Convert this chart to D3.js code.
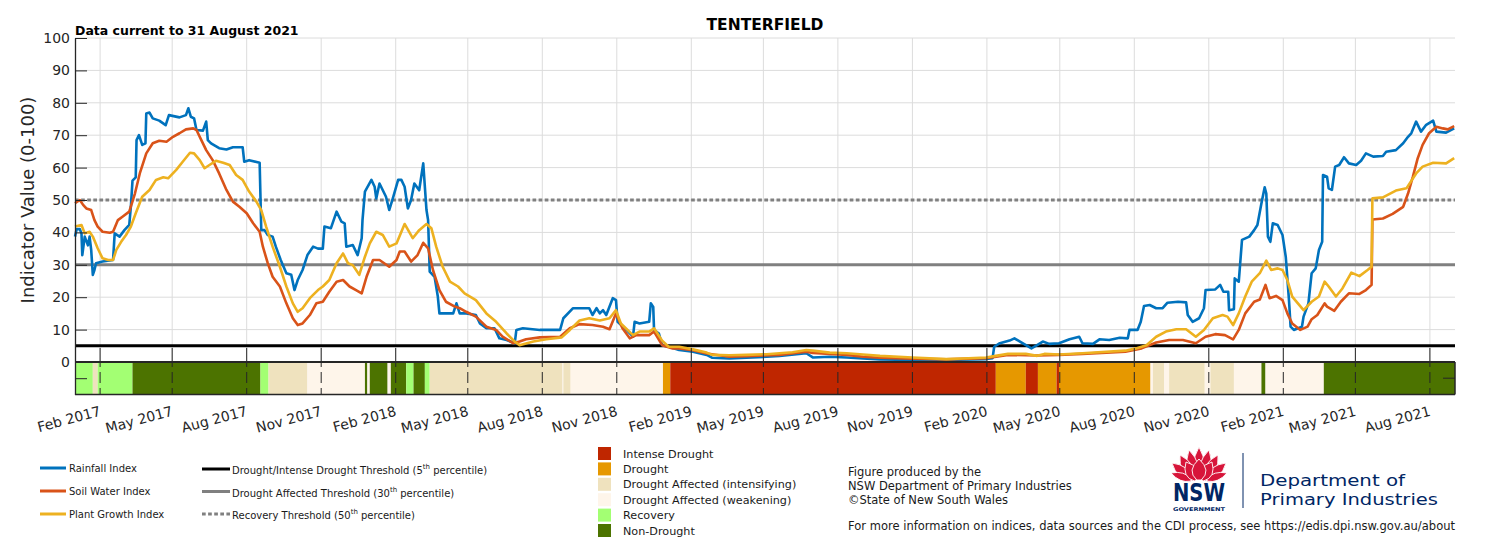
<!DOCTYPE html>
<html><head><meta charset="utf-8">
<script src="https://cdn.jsdelivr.net/npm/d3@7"></script>
<style>
body{margin:0;background:#fff}
svg{display:block}
text{font-family:"DejaVu Sans",sans-serif}
</style>
</head><body>
<svg id="c" width="1500" height="541"></svg>
<script>
// ---------------- DATA ----------------
const chartTitle = "TENTERFIELD";
const subTitle = "Data current to 31 August 2021";
const yTicks = [-5,0,10,20,30,40,50,60,70,80,90,100];
const thresholds = [{v:5,name:"Drought/Intense Drought Threshold",pct:"5"},{v:30,name:"Drought Affected Threshold",pct:"30"},{v:50,name:"Recovery Threshold",pct:"50"}];

const rainfall = [
["2017-01-01",38.7],["2017-01-03",41],["2017-01-07",41],["2017-01-09",39.7],["2017-01-10",33],["2017-01-13",38.7],["2017-01-17",36],["2017-01-19",38.7],["2017-01-21",34.6],["2017-01-23",26.9],["2017-01-25",28.4],["2017-01-27",30.5],["2017-02-04",31],["2017-02-17",31.5],["2017-02-19",39.7],["2017-02-25",38.7],["2017-03-03",40.7],["2017-03-09",42.3],["2017-03-11",48],["2017-03-13",56],["2017-03-17",57],["2017-03-18",68.5],["2017-03-21",70],["2017-03-25",67],["2017-03-29",67.5],["2017-03-30",76.7],["2017-04-03",77],["2017-04-07",75.2],["2017-04-15",74.5],["2017-04-23",73.1],["2017-04-27",76.2],["2017-05-10",75.5],["2017-05-18",76.2],["2017-05-21",78.3],["2017-05-24",75.7],["2017-05-28",75.2],["2017-05-31",71.6],["2017-06-08",71.4],["2017-06-12",74.2],["2017-06-14",68.5],["2017-06-18",67.5],["2017-06-28",66],["2017-07-07",65.6],["2017-07-15",66.3],["2017-07-27",66.3],["2017-07-29",61.8],["2017-08-04",62.3],["2017-08-17",61.5],["2017-08-19",40.7],["2017-08-23",40.7],["2017-08-27",39.2],["2017-09-02",38.7],["2017-09-06",35.6],["2017-09-12",31.5],["2017-09-19",27.4],["2017-09-25",26.9],["2017-09-29",22.2],["2017-10-03",25.3],["2017-10-09",28.4],["2017-10-15",33],["2017-10-22",35.6],["2017-10-28",35],["2017-11-03",35],["2017-11-05",41.8],["2017-11-13",41.3],["2017-11-20",46.4],["2017-11-26",43.3],["2017-11-30",42.8],["2017-12-02",35.6],["2017-12-10",36.1],["2017-12-16",33],["2017-12-21",38.2],["2017-12-22",43.8],["2017-12-25",52.6],["2018-01-02",56.2],["2018-01-06",54.1],["2018-01-08",50.5],["2018-01-12",55.1],["2018-01-20",51],["2018-01-24",46.9],["2018-01-29",51],["2018-02-04",56.2],["2018-02-08",56.2],["2018-02-12",54.1],["2018-02-16",47.4],["2018-02-20",50],["2018-02-24",55.1],["2018-03-02",53],["2018-03-07",61.3],["2018-03-11",46.9],["2018-03-13",43.8],["2018-03-15",27.9],["2018-03-21",26.3],["2018-03-25",20.2],["2018-03-27",15],["2018-04-13",15],["2018-04-17",18.1],["2018-04-21",15],["2018-04-29",15],["2018-05-11",14.5],["2018-05-16",11.9],["2018-05-24",10.4],["2018-06-03",10.4],["2018-06-09",7.3],["2018-06-18",6.8],["2018-06-28",5.8],["2018-06-30",9.9],["2018-07-08",10.4],["2018-07-29",9.9],["2018-08-23",9.9],["2018-08-27",13.5],["2018-09-08",16.6],["2018-09-28",16.6],["2018-10-02",14.5],["2018-10-07",16.6],["2018-10-11",15],["2018-10-15",16],["2018-10-19",14.5],["2018-10-27",19.7],["2018-10-31",19.1],["2018-11-02",12.4],["2018-11-13",9.9],["2018-11-21",7.8],["2018-11-23",12.4],["2018-11-29",11.9],["2018-12-11",12.4],["2018-12-13",18.1],["2018-12-16",17],["2018-12-17",9.9],["2018-12-23",8.8],["2018-12-27",5.2],["2019-01-04",4.7],["2019-01-17",3.7],["2019-02-03",3.2],["2019-02-20",2.2],["2019-02-27",1.3],["2019-03-20",1.1],["2019-04-10",1.3],["2019-05-05",1.6],["2019-05-21",1.9],["2019-06-23",2.7],["2019-07-01",1.4],["2019-07-22",1.6],["2019-08-12",1.4],["2019-09-01",1.1],["2019-09-22",0.8],["2019-11-01",0.6],["2019-12-13",0.6],["2020-01-31",0.9],["2020-02-08",1.2],["2020-02-10",4.7],["2020-02-17",5.8],["2020-02-29",6.6],["2020-03-06",7.3],["2020-03-16",5.8],["2020-03-27",4.2],["2020-04-03",5.2],["2020-04-10",6.3],["2020-04-18",5.6],["2020-04-30",5.8],["2020-05-13",7],["2020-05-25",7.8],["2020-05-29",5.8],["2020-06-11",5.6],["2020-06-19",7],["2020-07-01",6.8],["2020-07-14",7.5],["2020-07-24",7.3],["2020-07-26",9.9],["2020-08-05",9.9],["2020-08-09",12.4],["2020-08-13",17.3],["2020-08-20",17.6],["2020-08-28",16.6],["2020-09-05",16.6],["2020-09-11",18.3],["2020-09-24",18.6],["2020-10-04",18.4],["2020-10-06",14.5],["2020-10-12",12.4],["2020-10-20",13.5],["2020-10-26",16.6],["2020-10-28",22.2],["2020-11-09",22.4],["2020-11-15",23.8],["2020-11-19",21.7],["2020-11-25",21.7],["2020-11-26",16],["2020-12-02",16.3],["2020-12-03",25.8],["2020-12-08",24.8],["2020-12-12",37.7],["2020-12-21",38.7],["2020-12-27",40.7],["2020-12-31",42.3],["2021-01-05",49],["2021-01-09",53.9],["2021-01-11",52],["2021-01-13",38.7],["2021-01-16",37.1],["2021-01-19",42.8],["2021-01-25",42.3],["2021-01-31",39.2],["2021-02-04",32.5],["2021-02-08",19.1],["2021-02-10",10.9],["2021-02-14",9.9],["2021-02-24",10.9],["2021-02-26",14],["2021-03-04",18.1],["2021-03-08",27.4],["2021-03-13",28.9],["2021-03-17",34.6],["2021-03-21",37.1],["2021-03-22",57.7],["2021-03-27",57.2],["2021-03-29",53.6],["2021-04-02",53.1],["2021-04-06",60.3],["2021-04-11",60.8],["2021-04-17",63.2],["2021-04-23",61.3],["2021-05-02",60.8],["2021-05-08",62.1],["2021-05-14",64.4],["2021-05-23",63.4],["2021-06-04",63.6],["2021-06-08",64.9],["2021-06-20",65.4],["2021-06-29",67.5],["2021-07-05",69.5],["2021-07-09",70.6],["2021-07-15",74.2],["2021-07-21",71.1],["2021-07-27",73.1],["2021-08-05",74.5],["2021-08-09",71.1],["2021-08-21",70.8],["2021-08-31",72.1]
];

const soilWater = [
["2017-01-01",49],["2017-01-07",50],["2017-01-11",48.5],["2017-01-15",47.4],["2017-01-21",46.9],["2017-01-25",43.8],["2017-01-29",41.8],["2017-02-04",40.2],["2017-02-13",39.9],["2017-02-17",40.2],["2017-02-23",43.8],["2017-03-01",44.9],["2017-03-09",46.4],["2017-03-16",52],["2017-03-22",58.2],["2017-03-30",64.4],["2017-04-07",67.5],["2017-04-15",68.3],["2017-04-24",68],["2017-05-02",69.5],["2017-05-10",70.6],["2017-05-18",71.8],["2017-05-27",72.1],["2017-05-31",71.6],["2017-06-06",68.5],["2017-06-12",65.4],["2017-06-20",62.3],["2017-06-28",58.2],["2017-07-07",53.1],["2017-07-15",49.5],["2017-07-23",47.9],["2017-08-01",45.9],["2017-08-09",42.8],["2017-08-17",40.2],["2017-08-21",35.6],["2017-08-27",30.5],["2017-09-02",26.3],["2017-09-11",23.3],["2017-09-19",18.1],["2017-09-27",13.5],["2017-10-03",11.4],["2017-10-09",11.9],["2017-10-18",14.5],["2017-10-26",18.1],["2017-11-03",18.6],["2017-11-11",21.7],["2017-11-20",24.8],["2017-11-28",25.3],["2017-12-06",23.3],["2017-12-14",22.2],["2017-12-21",21.2],["2017-12-27",26.3],["2018-01-04",31.5],["2018-01-12",31.5],["2018-01-24",29.4],["2018-02-02",31.5],["2018-02-06",34.1],["2018-02-12",34.1],["2018-02-20",31],["2018-02-28",33],["2018-03-07",36.8],["2018-03-13",35.1],["2018-03-19",28.4],["2018-03-27",22.2],["2018-04-04",18.6],["2018-04-15",17.1],["2018-04-21",16.6],["2018-04-29",15.5],["2018-05-11",14],["2018-05-24",10.9],["2018-06-05",9.9],["2018-06-13",7.8],["2018-06-26",5.8],["2018-07-04",6.3],["2018-07-12",7],["2018-07-29",7.6],["2018-08-23",7.8],["2018-09-04",10.4],["2018-09-16",11.7],["2018-10-02",11.4],["2018-10-15",10.9],["2018-10-23",10.1],["2018-10-31",15],["2018-11-08",10.4],["2018-11-17",7.3],["2018-11-25",8.3],["2018-12-11",8.3],["2018-12-17",9.4],["2018-12-27",5.2],["2019-01-09",4.2],["2019-01-17",4.2],["2019-02-03",3.6],["2019-02-20",2.6],["2019-03-20",1.6],["2019-04-10",1.8],["2019-05-21",2.2],["2019-06-23",3.2],["2019-07-01",2.8],["2019-07-22",2.5],["2019-08-12",2.2],["2019-09-01",1.6],["2019-09-22",1.3],["2019-11-01",1.0],["2019-12-13",0.8],["2020-01-31",1.2],["2020-02-27",2.2],["2020-04-03",2.0],["2020-04-30",2.2],["2020-05-29",2.5],["2020-07-21",3.2],["2020-08-10",4.2],["2020-08-28",6],["2020-09-13",6.8],["2020-09-30",6.8],["2020-10-16",5.8],["2020-10-28",7.8],["2020-11-09",8.6],["2020-11-21",8.3],["2020-12-01",7],["2020-12-08",9.9],["2020-12-16",15],["2020-12-27",18.6],["2021-01-03",19.3],["2021-01-10",23.8],["2021-01-15",19.7],["2021-01-23",20.4],["2021-01-31",19.1],["2021-02-06",15],["2021-02-12",11.9],["2021-02-22",9.9],["2021-03-03",10.9],["2021-03-08",13.2],["2021-03-15",14.5],["2021-03-24",18.1],["2021-03-27",17.1],["2021-04-05",15.8],["2021-04-13",18.6],["2021-04-23",21.2],["2021-05-06",21],["2021-05-14",22.2],["2021-05-21",23.8],["2021-05-22",44],["2021-06-04",44.3],["2021-06-16",45.7],["2021-06-29",47.9],["2021-07-05",52],["2021-07-11",57.2],["2021-07-17",62.9],["2021-07-23",67],["2021-07-31",70.6],["2021-08-09",72.6],["2021-08-17",72.1],["2021-08-23",71.8],["2021-08-31",72.8]
];

const plantGrowth = [
["2017-01-01",41.8],["2017-01-09",42.3],["2017-01-13",39.7],["2017-01-19",40.2],["2017-01-23",38.7],["2017-01-29",35.1],["2017-02-04",32],["2017-02-11",31.5],["2017-02-17",31.5],["2017-02-21",34.6],["2017-02-27",37.1],["2017-03-05",39.2],["2017-03-11",41.8],["2017-03-17",45.9],["2017-03-25",51],["2017-04-03",53.1],["2017-04-11",56.2],["2017-04-20",57],["2017-04-26",56.7],["2017-05-06",59.3],["2017-05-14",61.8],["2017-05-23",64.6],["2017-05-28",64.4],["2017-06-04",62.3],["2017-06-10",59.8],["2017-06-16",60.8],["2017-06-24",62.1],["2017-07-03",61.5],["2017-07-11",60.8],["2017-07-19",57.7],["2017-07-27",56.2],["2017-08-04",52.6],["2017-08-13",49.5],["2017-08-19",46.9],["2017-08-25",41.8],["2017-09-02",35.6],["2017-09-11",29.4],["2017-09-19",23.3],["2017-09-27",18.1],["2017-10-03",15.5],["2017-10-09",16.6],["2017-10-18",19.7],["2017-10-28",22.2],["2017-11-03",23.3],["2017-11-11",25.3],["2017-11-20",30.5],["2017-11-28",33.5],["2017-12-04",30.5],["2017-12-10",29.9],["2017-12-18",26.9],["2017-12-25",32.5],["2017-12-31",36.6],["2018-01-08",40.2],["2018-01-16",39.2],["2018-01-24",35.6],["2018-02-02",36.6],["2018-02-12",42.6],["2018-02-22",38.2],["2018-03-02",40.7],["2018-03-11",42.6],["2018-03-17",41.3],["2018-03-23",35.6],["2018-03-31",29.4],["2018-04-09",24.8],["2018-04-19",23.3],["2018-04-27",21.2],["2018-05-11",19.1],["2018-05-24",15],["2018-06-05",12.4],["2018-06-18",8.8],["2018-06-28",6.3],["2018-07-04",5.2],["2018-07-21",6.3],["2018-08-06",7],["2018-08-25",7.6],["2018-09-04",9.9],["2018-09-16",12.8],["2018-09-28",13.5],["2018-10-11",12.8],["2018-10-23",13.5],["2018-10-31",16],["2018-11-06",11.9],["2018-11-21",8.3],["2018-11-29",9.4],["2018-12-11",9.4],["2018-12-17",10.4],["2018-12-27",6.6],["2019-01-04",4.7],["2019-01-17",4.7],["2019-02-03",3.9],["2019-02-20",2.9],["2019-02-27",2.2],["2019-03-20",2.1],["2019-04-10",2.2],["2019-05-05",2.4],["2019-05-21",2.7],["2019-06-06",3.0],["2019-06-23",3.7],["2019-07-01",3.5],["2019-07-22",2.9],["2019-08-12",2.7],["2019-09-01",2.3],["2019-09-22",1.9],["2019-11-01",1.4],["2019-12-13",0.9],["2020-01-02",1.1],["2020-01-31",1.4],["2020-02-12",1.9],["2020-02-27",2.5],["2020-03-20",2.5],["2020-04-03",1.9],["2020-04-12",2.5],["2020-04-30",2.3],["2020-05-29",2.7],["2020-07-21",3.5],["2020-08-03",4.2],["2020-08-16",5.2],["2020-08-28",7.8],["2020-09-09",9.4],["2020-09-22",10.1],["2020-10-04",10.1],["2020-10-16",7.8],["2020-10-26",9.9],["2020-11-06",13.5],["2020-11-18",14.5],["2020-11-24",14],["2020-12-01",11.4],["2020-12-08",15],["2020-12-16",20.2],["2020-12-24",24.8],["2021-01-03",27.4],["2021-01-11",31.3],["2021-01-17",28.4],["2021-01-25",28.9],["2021-01-31",28.4],["2021-02-06",25.3],["2021-02-12",20.2],["2021-02-26",16],["2021-03-08",18.6],["2021-03-17",20.2],["2021-03-24",24.8],["2021-03-29",23.3],["2021-04-07",20.2],["2021-04-15",22.7],["2021-04-26",27.6],["2021-05-06",26.5],["2021-05-16",28.4],["2021-05-21",29.4],["2021-05-22",50.5],["2021-06-04",50.8],["2021-06-20",52.9],["2021-07-03",53.6],["2021-07-15",58.2],["2021-07-23",60.3],["2021-08-05",61.5],["2021-08-21",61.3],["2021-08-31",62.9]
];

const statusNames = ["Intense Drought","Drought","Drought Affected (intensifying)","Drought Affected (weakening)","Recovery","Non-Drought"];
const statusColors = ["#bf2600","#e69800","#efe2be","#fef5ea","#a3ff73","#4c7300"];
// [start, end, status index]
const statusPeriods = [
["2017-01-01","2017-01-23",4],["2017-01-23","2017-01-29",2],["2017-01-29","2017-03-13",4],["2017-03-13","2017-08-18",5],["2017-08-18","2017-08-28",4],["2017-08-28","2017-10-15",2],["2017-10-15","2017-12-25",3],["2017-12-25","2017-12-28",5],["2017-12-28","2017-12-31",3],["2017-12-31","2018-01-22",5],["2018-01-22","2018-01-26",3],["2018-01-26","2018-02-14",5],["2018-02-14","2018-02-23",4],["2018-02-23","2018-03-09",5],["2018-03-09","2018-03-15",4],["2018-03-15","2018-08-26",2],["2018-08-26","2018-08-27",3],["2018-08-27","2018-09-05",2],["2018-09-05","2018-12-28",3],["2018-12-28","2019-01-06",1],["2019-01-06","2020-02-12",0],["2020-02-12","2020-03-20",1],["2020-03-20","2020-04-04",0],["2020-04-04","2020-04-27",1],["2020-04-27","2020-04-30",0],["2020-04-30","2020-08-21",1],["2020-08-21","2020-08-24",3],["2020-08-24","2020-09-07",2],["2020-09-07","2020-09-13",3],["2020-09-13","2020-10-27",2],["2020-10-27","2020-11-03",3],["2020-11-03","2020-12-02",2],["2020-12-02","2021-01-05",3],["2021-01-05","2021-01-10",5],["2021-01-10","2021-03-23",3],["2021-03-23","2021-09-01",5]
];

const seriesNames = ["Rainfall Index","Soil Water Index","Plant Growth Index"];
const seriesColors = ["#0072bd","#d95319","#edb120"];

// ---------------- DRAW ----------------
const parse = d3.utcParse("%Y-%m-%d");
const svg = d3.select("#c");
const L = 75, R = 1455;
const x = d3.scaleUtc().domain([parse("2017-01-01"), parse("2021-09-01")]).range([L, R]);
const y = d3.scaleLinear().domain([-10, 100]).range([394.4, 38]);
const y0 = y(0), yb = y(-10), yT = y(100);
const ink = "#262626";
const xTickDates = d3.utcMonth.range(parse("2017-02-01"), parse("2021-09-01"), 3);

// grid
svg.append("g").selectAll("line").data(yTicks.filter(v => v > 0)).join("line")
  .attr("x1", L).attr("x2", R).attr("y1", d => y(d)).attr("y2", d => y(d))
  .attr("stroke", "#dcdcdc").attr("stroke-width", 1);
svg.append("g").selectAll("line").data(xTickDates).join("line")
  .attr("x1", d => x(d)).attr("x2", d => x(d)).attr("y1", yT).attr("y2", y0)
  .attr("stroke", "#dcdcdc").attr("stroke-width", 1);

// thresholds
const thrStyle = [{c:"#000",dash:null},{c:"#808080",dash:null},{c:"#808080",dash:"3.7,2.4"}];
svg.append("g").selectAll("line").data(thresholds).join("line")
  .attr("x1", L).attr("x2", R).attr("y1", d => y(d.v)).attr("y2", d => y(d.v))
  .attr("stroke", (d,i) => thrStyle[i].c).attr("stroke-width", 3)
  .attr("stroke-dasharray", (d,i) => thrStyle[i].dash);

// series
const line = d3.line().x(d => x(parse(d[0]))).y(d => y(d[1]));
[rainfall, soilWater, plantGrowth].forEach((s, i) => {
  svg.append("path").datum(s).attr("d", line).attr("fill", "none")
    .attr("stroke", seriesColors[i]).attr("stroke-width", 2.6).attr("stroke-linejoin", "round");
});

// status bar
svg.append("g").selectAll("rect").data(statusPeriods).join("rect")
  .attr("x", d => x(parse(d[0]))).attr("width", d => Math.max(0.5, x(parse(d[1])) - x(parse(d[0]))))
  .attr("y", y0).attr("height", yb - y0).attr("fill", d => statusColors[d[2]]);

// status-bar tick segments
const tickSeg = [[y0 - 14, y0 + 5], [y0 + 10, y0 + 21], [y0 + 26, yb]];
xTickDates.forEach(d => {
  tickSeg.forEach(s => svg.append("line").attr("x1", x(d)).attr("x2", x(d)).attr("y1", s[0]).attr("y2", s[1])
    .attr("stroke", ink).attr("stroke-width", 1));
});
// status borders
svg.append("line").attr("x1", L).attr("x2", R).attr("y1", y0).attr("y2", y0).attr("stroke", ink).attr("stroke-width", 2);
svg.append("line").attr("x1", L).attr("x2", R).attr("y1", yb).attr("y2", yb).attr("stroke", ink).attr("stroke-width", 1.5);
svg.append("line").attr("x1", R).attr("x2", R).attr("y1", y0).attr("y2", yb).attr("stroke", ink).attr("stroke-width", 1.5);
svg.append("line").attr("x1", R - 12).attr("x2", R).attr("y1", y(-5)).attr("y2", y(-5)).attr("stroke", ink).attr("stroke-width", 1);

// y axis
const yAxis = svg.append("g").attr("transform", `translate(${L},0)`)
  .call(d3.axisLeft(y).tickValues(yTicks).tickSize(-12).tickSizeOuter(0).tickPadding(5)
    .tickFormat(d => d < 0 ? "" : d));
yAxis.attr("font-family", "DejaVu Sans").attr("font-size", 14);
yAxis.selectAll("text").attr("fill", ink);
yAxis.selectAll("line").attr("stroke", ink);
yAxis.select(".domain").attr("stroke", ink).attr("stroke-width", 1.3);

// x axis labels
const xAxis = svg.append("g").attr("transform", `translate(0,${yb})`)
  .call(d3.axisBottom(x).tickValues(xTickDates).tickSize(0).tickFormat(d3.utcFormat("%b %Y")));
xAxis.select(".domain").remove();
xAxis.attr("font-family", "DejaVu Sans").attr("font-size", 14);
xAxis.selectAll("text").attr("fill", ink).attr("y", 0).attr("dy", 0)
  .attr("text-anchor", "end").attr("transform", "translate(1,21) rotate(-15)");

// titles
svg.append("text").attr("x", 765).attr("y", 29.5).attr("text-anchor", "middle")
  .attr("font-weight", "bold").attr("font-size", 15.5).attr("fill", "#000").text(chartTitle);
svg.append("text").attr("x", 75).attr("y", 35).attr("font-weight", "bold")
  .attr("font-size", 12.5).attr("fill", "#000").text(subTitle);
svg.append("text").attr("transform", "translate(34,200) rotate(-90)").attr("text-anchor", "middle")
  .attr("font-size", 18).attr("fill", ink).text("Indicator Value (0-100)");

// legend: series
const lg = svg.append("g").attr("font-size", 10).attr("fill", "#1a1a1a");
seriesNames.forEach((n, i) => {
  const yy = 468 + i * 23;
  lg.append("line").attr("x1", 40).attr("x2", 66).attr("y1", yy).attr("y2", yy)
    .attr("stroke", seriesColors[i]).attr("stroke-width", 3);
  lg.append("text").attr("x", 69).attr("y", yy + 4).text(n);
});
thresholds.forEach((t, i) => {
  const yy = 469 + i * 22.5;
  lg.append("line").attr("x1", 202).attr("x2", 230).attr("y1", yy).attr("y2", yy)
    .attr("stroke", thrStyle[i].c).attr("stroke-width", 3).attr("stroke-dasharray", thrStyle[i].dash);
  const tx = lg.append("text").attr("x", 232).attr("y", yy + 5);
  tx.append("tspan").text(t.name + " (" + t.pct);
  tx.append("tspan").attr("font-size", 7).attr("dy", -5).text("th");
  tx.append("tspan").attr("dy", 5).text(" percentile)");
});

// legend: status
const sg = svg.append("g").attr("font-size", 11.2).attr("fill", "#1a1a1a");
statusNames.forEach((n, i) => {
  const yy = 447 + i * 15.4;
  sg.append("rect").attr("x", 598).attr("y", yy).attr("width", 13).attr("height", 13).attr("fill", statusColors[i]);
  sg.append("text").attr("x", 623).attr("y", yy + 10.5).text(n);
});

// footnote
const fn = svg.append("g").attr("font-size", 11.5).attr("fill", "#1a1a1a");
fn.append("text").attr("x", 848).attr("y", 475.5).text("Figure produced by the");
fn.append("text").attr("x", 848).attr("y", 490).text("NSW Department of Primary Industries");
fn.append("text").attr("x", 848).attr("y", 504).text("\u00A9State of New South Wales");
fn.append("text").attr("x", 848).attr("y", 530).attr("textLength", 607).attr("lengthAdjust", "spacing")
  .text("For more information on indices, data sources and the CDI process, see https://edis.dpi.nsw.gov.au/about");

// logo
const logo = svg.append("g").attr("transform", "translate(1199,480)");
const petals = [
  [0,0,0,-33,6],[-3,0,-10,-30,6],[3,0,10,-30,6],[-5,0,-19,-25,6],[5,0,19,-25,6],
  [-7,0,-27,-17,5.5],[7,0,27,-17,5.5],[-8,0,-28,-7,4],[8,0,28,-7,4],
  [-3,0,-13,-18,6.5],[3,0,13,-18,6.5],[0,0,0,-21,7.5]
];
petals.forEach(p => {
  const [bx, by, tx, ty, w] = p;
  const dx = tx - bx, dy = ty - by, len = Math.hypot(dx, dy);
  const nx = -dy / len, ny = dx / len;
  const mx = bx + dx * 0.45, my = by + dy * 0.45;
  const path = d3.path();
  path.moveTo(bx - nx * w * 0.3, by - ny * w * 0.3);
  path.quadraticCurveTo(mx - nx * w * 1.7, my - ny * w * 1.7, tx, ty);
  path.quadraticCurveTo(mx + nx * w * 1.7, my + ny * w * 1.7, bx + nx * w * 0.3, by + ny * w * 0.3);
  path.closePath();
  logo.append("path").attr("d", path.toString()).attr("fill", "#d7153a").attr("stroke", "#fff").attr("stroke-width", 0.9);
});
svg.append("text").attr("x", 1173).attr("y", 500.5).attr("font-weight", "bold").attr("font-size", 24)
  .attr("fill", "#002664").attr("textLength", 52).attr("lengthAdjust", "spacingAndGlyphs").text("NSW");
svg.append("text").attr("x", 1173).attr("y", 511).attr("font-weight", "bold").attr("font-size", 5)
  .attr("fill", "#002664").attr("textLength", 52).attr("lengthAdjust", "spacingAndGlyphs").text("GOVERNMENT");
svg.append("line").attr("x1", 1243).attr("x2", 1243).attr("y1", 453).attr("y2", 508)
  .attr("stroke", "#002664").attr("stroke-width", 1);
svg.append("text").attr("x", 1260).attr("y", 485.5).attr("font-size", 16).attr("font-weight", 500)
  .attr("fill", "#002664").attr("textLength", 145).attr("lengthAdjust", "spacingAndGlyphs").text("Department of");
svg.append("text").attr("x", 1260).attr("y", 504.5).attr("font-size", 16).attr("font-weight", 500)
  .attr("fill", "#002664").attr("textLength", 178).attr("lengthAdjust", "spacingAndGlyphs").text("Primary Industries");
</script>
</body></html>
